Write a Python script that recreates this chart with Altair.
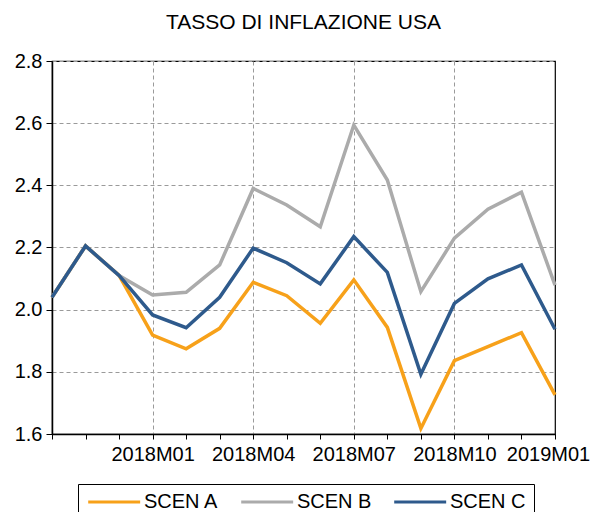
import altair as alt
import pandas as pd

months = ["2017M10", "2017M11", "2017M12", "2018M01", "2018M02", "2018M03",
          "2018M04", "2018M05", "2018M06", "2018M07", "2018M08", "2018M09",
          "2018M10", "2018M11", "2018M12", "2019M01"]
scen_a = [2.04, 2.205, 2.11, 1.918, 1.874, 1.94, 2.088, 2.045, 1.956, 2.096,
          1.943, 1.618, 1.836, 1.881, 1.926, 1.726]
scen_b = [2.04, 2.205, 2.11, 2.047, 2.056, 2.144, 2.39, 2.337, 2.267, 2.594,
          2.417, 2.058, 2.23, 2.323, 2.378, 2.079]
scen_c = [2.04, 2.205, 2.11, 1.983, 1.942, 2.04, 2.198, 2.151, 2.083, 2.235,
          2.12, 1.792, 2.02, 2.099, 2.144, 1.937]
series_names = ["SCEN A", "SCEN B", "SCEN C"]
series_colors = ["#F7A11A", "#ABABAB", "#2E5A8C"]
label_months = ["2018M01", "2018M04", "2018M07", "2018M10", "2019M01"]
grid_months = ["2018M01", "2018M04", "2018M07", "2018M10"]

rows = []
for name, vals in zip(series_names, [scen_a, scen_b, scen_c]):
    for i, (m, v) in enumerate(zip(months, vals)):
        rows.append({"idx": i, "month": m, "value": v, "serie": name})
df = pd.DataFrame(rows)

label_idx = [months.index(m) for m in label_months]
grid_idx = [months.index(m) for m in grid_months]
last_idx = len(months) - 1
arr = "[" + ",".join("'%s'" % m for m in months) + "]"
label_test = " || ".join("datum.value == %d" % i for i in label_idx)
grid_test = " || ".join("datum.value == %d" % i for i in grid_idx)
label_expr = "(%s) ? %s[datum.value] : ''" % (label_test, arr)

font = "Liberation Sans"

chart = alt.Chart(df).mark_line(strokeWidth=3.5, strokeJoin="miter").encode(
    x=alt.X("idx:Q",
            scale=alt.Scale(domain=[0, last_idx], nice=False, zero=False),
            axis=alt.Axis(title=None, values=list(range(len(months))),
                          labelExpr=label_expr, tickSize=5, tickColor="black",
                          domainColor="black", domainWidth=1.5, labelFontSize=20,
                          labelColor="black", labelFont=font, labelPadding=5,
                          labelFlush=False, labelOverlap=False,
                          labelOffset={"condition": {"test": "datum.value == %d" % last_idx, "value": -7}, "value": 0},
                          grid=True, gridDash=[4, 3], gridColor="#9A9A9A",
                          gridWidth=1,
                          gridOpacity={"condition": {"test": grid_test, "value": 1}, "value": 0})),
    y=alt.Y("value:Q",
            scale=alt.Scale(domain=[1.6, 2.8], nice=False, zero=False),
            axis=alt.Axis(title=None, values=[1.6, 1.8, 2.0, 2.2, 2.4, 2.6, 2.8],
                          format=".1f", tickSize=6, tickColor="black",
                          domainColor="black", domainWidth=1.5, labelFontSize=20,
                          labelColor="black", labelFont=font, labelPadding=4,
                          grid=True, gridDash=[4, 3], gridColor="#9A9A9A",
                          gridWidth=1)),
    color=alt.Color("serie:N",
                    scale=alt.Scale(domain=series_names, range=series_colors),
                    legend=alt.Legend(title=None, orient="none", legendX=26, legendY=423,
                                      direction="horizontal", symbolType="M-1.5,0H8.5",
                                      symbolSize=108, symbolStrokeWidth=3,
                                      labelFontSize=20, labelFont=font, labelColor="black",
                                      labelOffset=38, columnPadding=16,
                                      strokeColor="black", padding=8)),
    order=alt.Order("idx:Q"),
).properties(
    width=503,
    height=373,
    title=alt.Title("TASSO DI INFLAZIONE USA", fontSize=21, fontWeight="normal",
                    font=font, color="black", anchor="middle", offset=18),
    autosize=alt.AutoSizeParams(type="none"),
    padding={"left": 44, "top": 53, "right": 35, "bottom": 78},
).configure_view(stroke="black", strokeWidth=1.2)

chart.save("out.html", embed_options={"renderer": "svg", "actions": False})
